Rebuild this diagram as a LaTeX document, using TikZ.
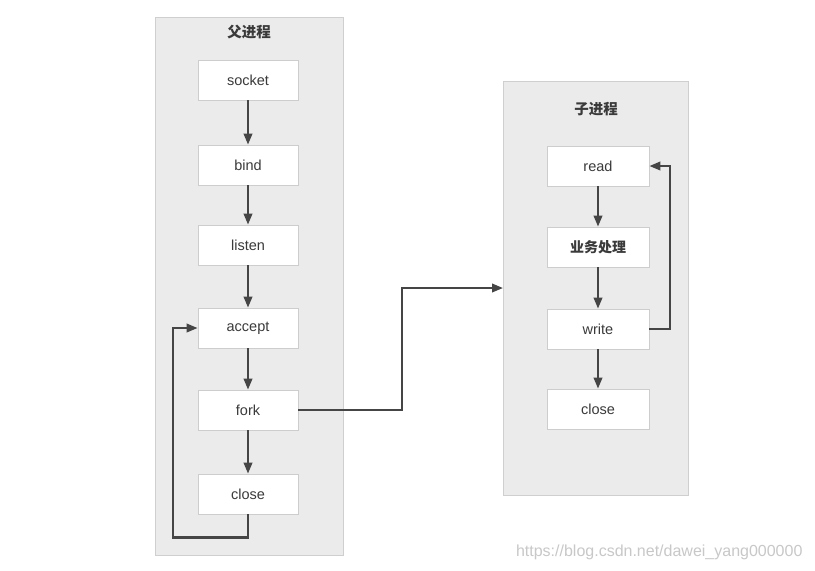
\documentclass[tikz,border=0pt]{standalone}
\usepackage{fontspec}
\setmainfont{Liberation Sans}
\newfontfamily\cjk{Noto Sans CJK SC}
\usetikzlibrary{arrows.meta}
\definecolor{panelfill}{HTML}{EBEBEB}
\definecolor{paneldraw}{HTML}{CFCFCF}
\definecolor{boxdraw}{HTML}{CDCDCD}
\definecolor{txt}{HTML}{3A3A3A}
\definecolor{arr}{HTML}{454545}
\definecolor{wm}{HTML}{C8C8C8}
\begin{document}
\begin{tikzpicture}[x=1pt,y=-1pt,
  panel/.style={draw=paneldraw,fill=panelfill,line width=0.8pt},
  stepbox/.style={draw=boxdraw,fill=white,line width=0.8pt,minimum width=100pt,minimum height=40pt,inner sep=0pt,text=txt,font=\fontsize{14.5}{16}\selectfont},
  ttl/.style={text=txt,font=\cjk\bfseries\fontsize{14.5}{16}\selectfont},
  conn/.style={draw=arr,line width=2.2pt,-{Triangle[length=11pt,width=8.5pt]}},
  plain/.style={draw=arr,line width=2.2pt}]
\useasboundingbox (0,0) rectangle (815,571);
\fill[white] (0,0) rectangle (815,571);
% panels
\draw[panel] (155,17) rectangle (343,555);
\draw[panel] (503,81) rectangle (688,495);
\node[ttl] (t1) at (249,32) {父进程};
\node[ttl] (t2) at (596,109) {子进程};
% left boxes
\node[stepbox] (socket) at (248,80) {socket};
\node[stepbox] (bind) at (248,165) {bind};
\node[stepbox] (listen) at (248,245) {listen};
\node[stepbox] (accept) at (248,328) {accept};
\node[stepbox] (fork) at (248,410) {fork};
\node[stepbox] (close1) at (248,494) {close};
% right boxes
\node[stepbox,minimum width=102pt] (read) at (598,166) {read};
\node[stepbox,minimum width=102pt,font=\cjk\bfseries\fontsize{14}{16}\selectfont] (biz) at (598,247) {业务处理};
\node[stepbox,minimum width=102pt] (write) at (598,329) {write};
\node[stepbox,minimum width=102pt] (close2) at (598,409) {close};
% right panel entry point
\coordinate (entry) at (503,288);
% arrows left
\draw[conn] (socket) -- (bind);
\draw[conn] (bind) -- (listen);
\draw[conn] (listen) -- (accept);
\draw[conn] (accept) -- (fork);
\draw[conn] (fork) -- (close1);
\draw[conn] (close1.south) -- ++(0,23) -| (173,328) -- (accept.west);
% fork to child
\draw[conn] (fork.east) -- (402,410) |- (entry);
% arrows right
\draw[conn] (read) -- (biz);
\draw[conn] (biz) -- (write);
\draw[conn] (write) -- (close2);
\draw[conn] (write.east) -- (670,329) |- (read.east);
% watermark
\node[text=wm,font=\fontsize{16}{18}\selectfont,anchor=east] (wmk) at (806,552) {https://blog.csdn.net/dawei\_yang000000};
\end{tikzpicture}
\end{document}
